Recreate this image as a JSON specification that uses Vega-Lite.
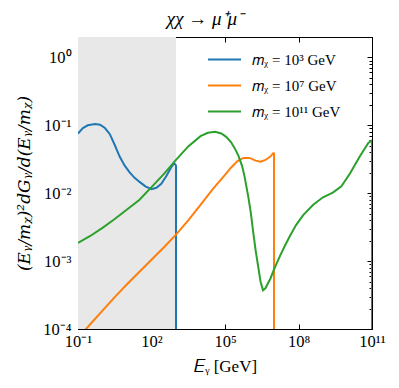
{
  "$schema": "https://vega.github.io/schema/vega-lite/v6.json",
  "width": 294,
  "height": 292,
  "autosize": {"type": "none"},
  "padding": {"left": 78, "top": 37, "right": 27, "bottom": 59},
  "background": "white",
  "title": {"text": "χχ → μ⁺μ⁻", "font": "Liberation Serif", "fontSize": 19, "fontStyle": "italic", "fontWeight": "normal", "color": "black", "offset": 8, "anchor": "middle", "frame": "group", "dx": -20},
  "config": {
    "view": {"stroke": "black", "strokeWidth": 1},
    "axis": {"zindex": 1, "grid": false, "domainColor": "black", "domainWidth": 1, "tickColor": "black", "tickWidth": 1, "labelColor": "black", "titleColor": "black", "labelFont": "Liberation Serif", "labelFontSize": 16.5, "titleFont": "Liberation Serif", "titleFontSize": 17, "titleFontWeight": "normal", "labelOverlap": false, "labelFlush": false}
  },
  "datasets": {
    "band": [{"lo": 0.1, "hi": 1000}],
    "curves": [
      {"E": 0.1, "v": 0.0759, "s": "𝑚ᵪ = 10³ GeV"},
      {"E": 0.1585, "v": 0.0912, "s": "𝑚ᵪ = 10³ GeV"},
      {"E": 0.2512, "v": 0.1, "s": "𝑚ᵪ = 10³ GeV"},
      {"E": 0.5012, "v": 0.1047, "s": "𝑚ᵪ = 10³ GeV"},
      {"E": 0.7943, "v": 0.1023, "s": "𝑚ᵪ = 10³ GeV"},
      {"E": 1.259, "v": 0.0912, "s": "𝑚ᵪ = 10³ GeV"},
      {"E": 1.995, "v": 0.0741, "s": "𝑚ᵪ = 10³ GeV"},
      {"E": 3.162, "v": 0.0513, "s": "𝑚ᵪ = 10³ GeV"},
      {"E": 5.012, "v": 0.0347, "s": "𝑚ᵪ = 10³ GeV"},
      {"E": 7.943, "v": 0.0257, "s": "𝑚ᵪ = 10³ GeV"},
      {"E": 12.59, "v": 0.0204, "s": "𝑚ᵪ = 10³ GeV"},
      {"E": 19.95, "v": 0.017, "s": "𝑚ᵪ = 10³ GeV"},
      {"E": 31.62, "v": 0.0148, "s": "𝑚ᵪ = 10³ GeV"},
      {"E": 56.23, "v": 0.0126, "s": "𝑚ᵪ = 10³ GeV"},
      {"E": 100, "v": 0.0115, "s": "𝑚ᵪ = 10³ GeV"},
      {"E": 158.5, "v": 0.012, "s": "𝑚ᵪ = 10³ GeV"},
      {"E": 251.2, "v": 0.0138, "s": "𝑚ᵪ = 10³ GeV"},
      {"E": 398.1, "v": 0.0178, "s": "𝑚ᵪ = 10³ GeV"},
      {"E": 631, "v": 0.024, "s": "𝑚ᵪ = 10³ GeV"},
      {"E": 831.8, "v": 0.0275, "s": "𝑚ᵪ = 10³ GeV"},
      {"E": 955, "v": 0.0265, "s": "𝑚ᵪ = 10³ GeV"},
      {"E": 1000, "v": 0.025, "s": "𝑚ᵪ = 10³ GeV"},
      {"E": 1000, "v": 0.0001, "s": "𝑚ᵪ = 10³ GeV"},
      {"E": 0.1, "v": 0.0000741, "s": "𝑚ᵪ = 10⁷ GeV"},
      {"E": 0.3162, "v": 0.0001175, "s": "𝑚ᵪ = 10⁷ GeV"},
      {"E": 1, "v": 0.0001862, "s": "𝑚ᵪ = 10⁷ GeV"},
      {"E": 3.162, "v": 0.0002951, "s": "𝑚ᵪ = 10⁷ GeV"},
      {"E": 10, "v": 0.0004571, "s": "𝑚ᵪ = 10⁷ GeV"},
      {"E": 31.62, "v": 0.0006918, "s": "𝑚ᵪ = 10⁷ GeV"},
      {"E": 100, "v": 0.001047, "s": "𝑚ᵪ = 10⁷ GeV"},
      {"E": 316.2, "v": 0.001585, "s": "𝑚ᵪ = 10⁷ GeV"},
      {"E": 1000, "v": 0.002455, "s": "𝑚ᵪ = 10⁷ GeV"},
      {"E": 3162, "v": 0.003981, "s": "𝑚ᵪ = 10⁷ GeV"},
      {"E": 10000, "v": 0.006761, "s": "𝑚ᵪ = 10⁷ GeV"},
      {"E": 31623, "v": 0.01148, "s": "𝑚ᵪ = 10⁷ GeV"},
      {"E": 100000, "v": 0.01862, "s": "𝑚ᵪ = 10⁷ GeV"},
      {"E": 177800, "v": 0.02399, "s": "𝑚ᵪ = 10⁷ GeV"},
      {"E": 316200, "v": 0.02951, "s": "𝑚ᵪ = 10⁷ GeV"},
      {"E": 562300, "v": 0.03311, "s": "𝑚ᵪ = 10⁷ GeV"},
      {"E": 1000000, "v": 0.03311, "s": "𝑚ᵪ = 10⁷ GeV"},
      {"E": 1778000, "v": 0.0302, "s": "𝑚ᵪ = 10⁷ GeV"},
      {"E": 2818000, "v": 0.0292, "s": "𝑚ᵪ = 10⁷ GeV"},
      {"E": 4467000, "v": 0.0309, "s": "𝑚ᵪ = 10⁷ GeV"},
      {"E": 7079000, "v": 0.0347, "s": "𝑚ᵪ = 10⁷ GeV"},
      {"E": 9333000, "v": 0.0389, "s": "𝑚ᵪ = 10⁷ GeV"},
      {"E": 10000000, "v": 0.0385, "s": "𝑚ᵪ = 10⁷ GeV"},
      {"E": 10000000, "v": 0.0001, "s": "𝑚ᵪ = 10⁷ GeV"},
      {"E": 0.1, "v": 0.001862, "s": "𝑚ᵪ = 10¹¹ GeV"},
      {"E": 0.3162, "v": 0.002344, "s": "𝑚ᵪ = 10¹¹ GeV"},
      {"E": 1, "v": 0.00309, "s": "𝑚ᵪ = 10¹¹ GeV"},
      {"E": 3.162, "v": 0.00417, "s": "𝑚ᵪ = 10¹¹ GeV"},
      {"E": 10, "v": 0.00575, "s": "𝑚ᵪ = 10¹¹ GeV"},
      {"E": 31.62, "v": 0.00794, "s": "𝑚ᵪ = 10¹¹ GeV"},
      {"E": 100, "v": 0.0123, "s": "𝑚ᵪ = 10¹¹ GeV"},
      {"E": 316.2, "v": 0.0191, "s": "𝑚ᵪ = 10¹¹ GeV"},
      {"E": 1000, "v": 0.0309, "s": "𝑚ᵪ = 10¹¹ GeV"},
      {"E": 3162, "v": 0.049, "s": "𝑚ᵪ = 10¹¹ GeV"},
      {"E": 10000, "v": 0.0692, "s": "𝑚ᵪ = 10¹¹ GeV"},
      {"E": 19950, "v": 0.0776, "s": "𝑚ᵪ = 10¹¹ GeV"},
      {"E": 39810, "v": 0.0804, "s": "𝑚ᵪ = 10¹¹ GeV"},
      {"E": 70790, "v": 0.0759, "s": "𝑚ᵪ = 10¹¹ GeV"},
      {"E": 112200, "v": 0.0676, "s": "𝑚ᵪ = 10¹¹ GeV"},
      {"E": 177800, "v": 0.0562, "s": "𝑚ᵪ = 10¹¹ GeV"},
      {"E": 251200, "v": 0.0457, "s": "𝑚ᵪ = 10¹¹ GeV"},
      {"E": 354800, "v": 0.0355, "s": "𝑚ᵪ = 10¹¹ GeV"},
      {"E": 501200, "v": 0.0251, "s": "𝑚ᵪ = 10¹¹ GeV"},
      {"E": 631000, "v": 0.0174, "s": "𝑚ᵪ = 10¹¹ GeV"},
      {"E": 891300, "v": 0.00891, "s": "𝑚ᵪ = 10¹¹ GeV"},
      {"E": 1122000, "v": 0.00525, "s": "𝑚ᵪ = 10¹¹ GeV"},
      {"E": 1413000, "v": 0.00269, "s": "𝑚ᵪ = 10¹¹ GeV"},
      {"E": 1778000, "v": 0.001445, "s": "𝑚ᵪ = 10¹¹ GeV"},
      {"E": 2239000, "v": 0.000851, "s": "𝑚ᵪ = 10¹¹ GeV"},
      {"E": 2818000, "v": 0.000501, "s": "𝑚ᵪ = 10¹¹ GeV"},
      {"E": 3548000, "v": 0.000372, "s": "𝑚ᵪ = 10¹¹ GeV"},
      {"E": 4467000, "v": 0.000398, "s": "𝑚ᵪ = 10¹¹ GeV"},
      {"E": 7079000, "v": 0.00055, "s": "𝑚ᵪ = 10¹¹ GeV"},
      {"E": 11220000, "v": 0.000832, "s": "𝑚ᵪ = 10¹¹ GeV"},
      {"E": 17780000, "v": 0.001202, "s": "𝑚ᵪ = 10¹¹ GeV"},
      {"E": 28180000, "v": 0.001698, "s": "𝑚ᵪ = 10¹¹ GeV"},
      {"E": 44670000, "v": 0.002344, "s": "𝑚ᵪ = 10¹¹ GeV"},
      {"E": 79430000, "v": 0.00339, "s": "𝑚ᵪ = 10¹¹ GeV"},
      {"E": 158500000, "v": 0.00479, "s": "𝑚ᵪ = 10¹¹ GeV"},
      {"E": 398100000, "v": 0.00676, "s": "𝑚ᵪ = 10¹¹ GeV"},
      {"E": 1000000000, "v": 0.00871, "s": "𝑚ᵪ = 10¹¹ GeV"},
      {"E": 2512000000, "v": 0.0102, "s": "𝑚ᵪ = 10¹¹ GeV"},
      {"E": 5623000000, "v": 0.0126, "s": "𝑚ᵪ = 10¹¹ GeV"},
      {"E": 12590000000, "v": 0.0195, "s": "𝑚ᵪ = 10¹¹ GeV"},
      {"E": 31620000000, "v": 0.0347, "s": "𝑚ᵪ = 10¹¹ GeV"},
      {"E": 70790000000, "v": 0.055, "s": "𝑚ᵪ = 10¹¹ GeV"},
      {"E": 93330000000, "v": 0.0589, "s": "𝑚ᵪ = 10¹¹ GeV"},
      {"E": 100000000000, "v": 0.06, "s": "𝑚ᵪ = 10¹¹ GeV"},
      {"E": 100000000000, "v": 0.0001, "s": "𝑚ᵪ = 10¹¹ GeV"}
    ]
  },
  "layer": [
    {
      "data": {"name": "band"},
      "mark": {"type": "rect", "color": "#e8e8e8"},
      "encoding": {
        "x": {"field": "lo", "type": "quantitative", "scale": {"type": "log", "domain": [0.1, 100000000000]}, "axis": null},
        "x2": {"field": "hi"}
      }
    },
    {
      "data": {"name": "curves"},
      "mark": {"type": "line", "strokeWidth": 2, "clip": true},
      "encoding": {
        "x": {"field": "E", "type": "quantitative", "scale": {"type": "log", "domain": [0.1, 100000000000]},
          "axis": {"orient": "bottom", "values": [0.1, 100, 100000, 100000000, 100000000000], "labelExpr": "datum.value == 0.1 ? '10⁻¹' : datum.value == 100 ? '10²' : datum.value == 100000 ? '10⁵' : datum.value == 100000000 ? '10⁸' : '10¹¹'", "tickSize": -5, "labelPadding": 9, "title": "𝐸ᵧ [GeV]", "titlePadding": 9}},
        "y": {"field": "v", "type": "quantitative", "scale": {"type": "log", "domain": [0.0001, 2]},
          "axis": {"orient": "left", "values": [0.0001,0.0002,0.0003,0.0004,0.0005,0.0006,0.0007,0.0008,0.0009,0.001,0.002,0.003,0.004,0.005,0.006,0.007,0.008,0.009,0.01,0.02,0.03,0.04,0.05,0.06,0.07,0.08,0.09,0.1,0.2,0.3,0.4,0.5,0.6,0.7,0.8,0.9,1],
            "labelExpr": "datum.value == 1 ? '10⁰' : datum.value == 0.1 ? '10⁻¹' : datum.value == 0.01 ? '10⁻²' : datum.value == 0.001 ? '10⁻³' : datum.value == 0.0001 ? '10⁻⁴' : ''",
            "tickSize": {"condition": {"test": "indexof([0.0001, 0.001, 0.01, 0.1, 1], datum.value) >= 0", "value": -5}, "value": -3},
            "labelPadding": 12, "title": "(Eᵧ/mᵪ)²dGᵧ/d(Eᵧ/mᵪ)", "titleFont": "DejaVu Serif", "titleFontStyle": "italic", "titleFontSize": 17, "titlePadding": 9}},
        "color": {"field": "s", "type": "nominal",
          "scale": {"domain": ["𝑚ᵪ = 10³ GeV", "𝑚ᵪ = 10⁷ GeV", "𝑚ᵪ = 10¹¹ GeV"], "range": ["#1f77b4", "#ff7f0e", "#2ca02c"]},
          "legend": {"orient": "none", "legendX": 129, "legendY": 5, "title": null, "symbolType": "stroke", "symbolSize": 1089, "symbolStrokeWidth": 2, "labelFont": "Liberation Serif", "labelFontSize": 15, "labelColor": "black", "rowPadding": -8, "labelOffset": 10, "padding": 0}},
        "order": {"value": null}
      }
    },
    {
      "data": {"name": "curves"},
      "mark": {"type": "point", "opacity": 0},
      "encoding": {
        "x": {"field": "E", "type": "quantitative", "scale": {"type": "log", "domain": [0.1, 100000000000]},
          "axis": {"orient": "top", "values": [0.1, 100, 100000, 100000000, 100000000000], "labels": false, "tickSize": -5, "title": null}},
        "y": {"field": "v", "type": "quantitative", "scale": {"type": "log", "domain": [0.0001, 2]},
          "axis": {"orient": "right", "values": [0.0001,0.0002,0.0003,0.0004,0.0005,0.0006,0.0007,0.0008,0.0009,0.001,0.002,0.003,0.004,0.005,0.006,0.007,0.008,0.009,0.01,0.02,0.03,0.04,0.05,0.06,0.07,0.08,0.09,0.1,0.2,0.3,0.4,0.5,0.6,0.7,0.8,0.9,1],
            "labels": false, "title": null,
            "tickSize": {"condition": {"test": "indexof([0.0001, 0.001, 0.01, 0.1, 1], datum.value) >= 0", "value": -5}, "value": -3}}}
      }
    }
  ],
  "resolve": {"axis": {"x": "independent", "y": "independent"}}
}
